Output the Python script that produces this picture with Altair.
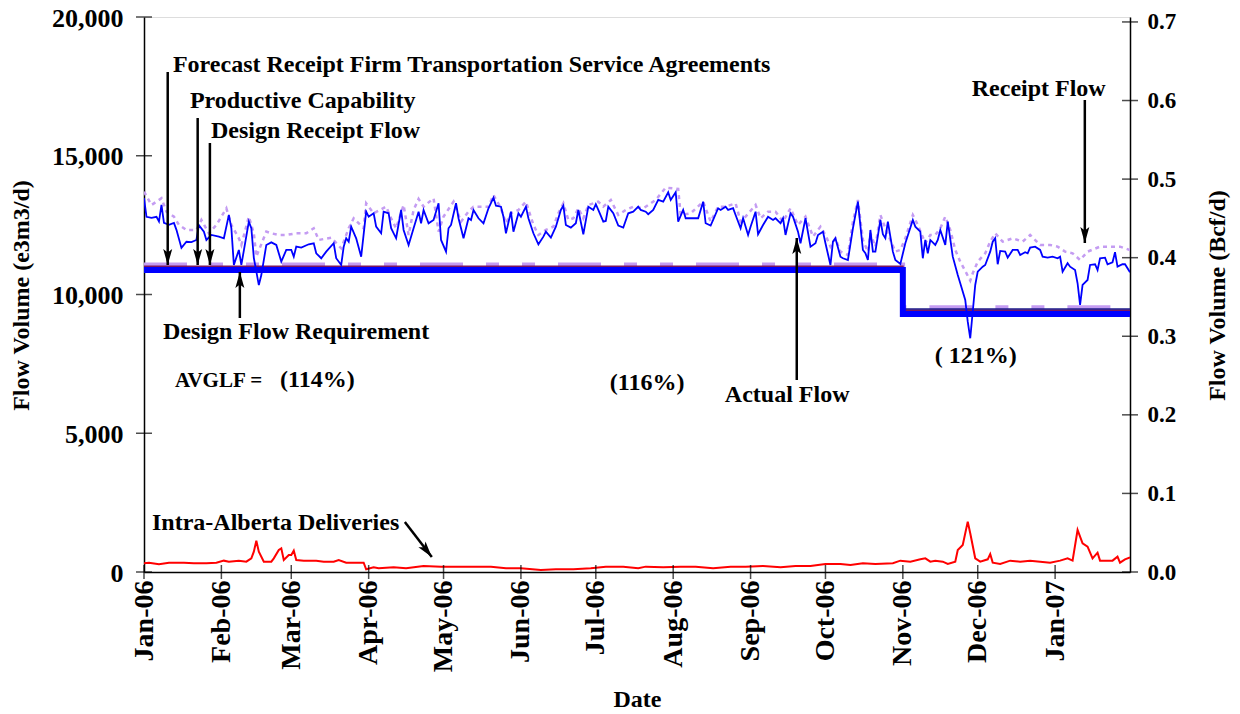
import altair as alt
import pandas as pd

START = pd.Timestamp("2006-01-01")
END = pd.Timestamp("2007-01-31")
CF = 35.3147e-6  # e3m3/d -> Bcf/d
FONT = "Liberation Serif"

# ---------------- data (day offset from 2006-01-01, value in e3m3/d) ----------------
actual_flow = [
    (0, 13470), (1, 12800), (3, 12760), (5, 12800), (6, 12630), (7, 13230), (8, 12580), (10, 12510),
    (12, 12580), (13, 12330), (15, 11680), (17, 11900), (19, 11890), (21, 11965), (22, 12500), (24, 12260),
    (25, 11965), (27, 12145), (30, 12085), (32, 12025), (34, 12870), (35, 12390), (36, 11065), (38, 11605),
    (39, 11065), (42, 12625), (43, 12390), (44, 11320), (46, 10340), (47, 10700), (49, 11785), (51, 11880),
    (53, 11785), (55, 11185), (57, 11605), (59, 11605), (60, 11365), (61, 11725), (63, 11690), (66, 11810),
    (68, 11846), (69, 11486), (71, 11306), (73, 11544), (76, 11846), (77, 11306), (79, 11064), (80, 11724),
    (81, 12026), (82, 11904), (83, 12445), (85, 12026), (87, 11363), (89, 12985), (90, 12805), (92, 12927),
    (93, 12445), (95, 12207), (96, 12985), (98, 12927), (99, 12387), (101, 12026), (103, 13046), (104, 12326),
    (106, 11785), (108, 12387), (110, 12985), (111, 12567), (112, 13046), (114, 12567), (116, 12686), (118, 13288),
    (119, 11965), (121, 11544), (122, 12387), (123, 12506), (125, 13288), (126, 12747), (128, 12026), (130, 12747),
    (131, 12686), (132, 13046), (134, 12747), (136, 12567), (138, 13108), (140, 13490), (141, 13202), (143, 13165),
    (144, 12805), (145, 12207), (147, 12985), (148, 12264), (150, 12927), (151, 12805), (153, 13165), (154, 12747),
    (156, 12207), (158, 11810), (160, 12084), (161, 12264), (163, 12048), (165, 12445), (167, 13046), (168, 13202),
    (169, 12506), (171, 12409), (173, 12567), (174, 13046), (176, 12171), (178, 13165), (180, 13046), (181, 13252),
    (182, 13046), (184, 12625), (185, 12650), (186, 13165), (188, 12927), (190, 12481), (192, 12409), (194, 12927),
    (196, 12985), (198, 13165), (199, 13046), (201, 12985), (202, 12892), (204, 13046), (206, 13407), (208, 13346),
    (210, 13684), (211, 13407), (213, 13684), (214, 12625), (216, 13046), (217, 12747), (220, 12747), (222, 12747),
    (224, 13346), (225, 12567), (227, 12481), (228, 12686), (230, 13108), (231, 13046), (233, 13165), (234, 13046),
    (236, 13108), (237, 12866), (239, 12387), (240, 12747), (242, 12145), (243, 12445), (245, 12985), (246, 12171),
    (248, 12506), (250, 12805), (252, 12686), (253, 12747), (255, 12567), (256, 12747), (257, 12145), (259, 12927),
    (260, 12805), (262, 12264), (263, 11846), (265, 12747), (267, 11724), (269, 11846), (270, 12145), (272, 12264),
    (273, 11846), (275, 11064), (276, 11904), (277, 12026), (279, 11363), (280, 11306), (282, 11244), (284, 12387),
    (286, 13346), (288, 11605), (289, 11486), (290, 11244), (291, 12326), (292, 11544), (293, 11544), (295, 12686),
    (296, 12171), (297, 12026), (298, 12625), (300, 11544), (301, 11244), (303, 11100), (305, 11846), (308, 12686),
    (309, 12445), (311, 12264), (312, 11306), (313, 11965), (314, 11486), (315, 11965), (317, 11785), (318, 11965),
    (319, 12326), (321, 11785), (322, 12625), (324, 11363), (326, 10704), (327, 10405), (329, 9803), (330, 9021),
    (331, 8422), (333, 10343), (334, 10823), (336, 11003), (337, 11064), (339, 11544), (340, 11904), (341, 12026),
    (342, 11090), (343, 11569), (345, 11544), (346, 11327), (348, 11605), (350, 11605), (351, 11425), (353, 11522),
    (354, 11486), (355, 11688), (357, 11724), (359, 11605), (360, 11363), (362, 11327), (364, 11363), (366, 11306),
    (367, 11363), (368, 10823), (370, 11126), (371, 11003), (373, 10884), (374, 10405), (375, 9623), (376, 10343),
    (378, 10524), (379, 11064), (381, 11090), (382, 10884), (383, 11306), (385, 11327), (386, 11090), (388, 11162),
    (389, 11522), (390, 11003), (392, 11090), (393, 11090), (395, 10801),
]

receipt_flow = [
    (0, 13707), (3, 13226), (7, 13467), (9, 12986), (12, 12806), (14, 12506), (17, 12326), (21, 12326),
    (23, 12686), (26, 12206), (29, 12506), (33, 13106), (35, 12506), (38, 12025), (39, 11785), (42, 12806),
    (44, 12206), (45, 11365), (49, 12266), (51, 12206), (54, 12146), (57, 12146), (61, 12206), (65, 12206),
    (68, 12386), (70, 11965), (75, 12049), (79, 11665), (82, 12386), (84, 12746), (88, 12386), (89, 13286),
    (92, 12926), (97, 13166), (99, 12746), (101, 12386), (104, 13226), (106, 12146), (108, 13046), (110, 13443),
    (112, 13166), (116, 13467), (118, 12266), (120, 12806), (124, 13346), (127, 12626), (130, 12986), (132, 13166),
    (138, 13166), (140, 13587), (143, 13106), (145, 12566), (147, 12926), (150, 13046), (153, 13346), (156, 12506),
    (158, 12146), (161, 12326), (164, 12446), (166, 12926), (168, 13286), (170, 12686), (172, 12746), (174, 13106),
    (176, 12746), (178, 13226), (182, 13346), (184, 13166), (187, 13406), (190, 12866), (193, 13046), (196, 13166),
    (200, 13106), (205, 13406), (209, 13851), (214, 13803), (215, 12866), (219, 12926), (224, 13346), (227, 12626),
    (230, 13166), (233, 13166), (237, 13286), (239, 12626), (241, 12806), (245, 13226), (247, 12746), (250, 12986),
    (253, 12986), (256, 12626), (259, 13106), (262, 12506), (265, 12806), (268, 12085), (271, 12446), (273, 12146),
    (275, 11725), (277, 12025), (279, 11545), (282, 11425), (284, 12626), (286, 13406), (288, 11965), (290, 11545),
    (291, 12206), (293, 11725), (295, 12866), (297, 12386), (299, 11965), (301, 11545), (303, 11605), (305, 12025),
    (308, 12866), (310, 12506), (313, 11845), (315, 12146), (317, 12146), (319, 12386), (321, 12806), (323, 12326),
    (325, 11605), (327, 11184), (329, 10850), (331, 10500), (332, 10764), (334, 11184), (337, 11485), (339, 11905),
    (341, 12206), (344, 11905), (348, 12025), (352, 11905), (355, 12146), (359, 11785), (363, 11785), (366, 11725),
    (369, 11545), (372, 11485), (375, 11245), (378, 11545), (383, 11725), (387, 11725), (391, 11725), (395, 11605),
]

intra_alberta = [
    (0, 313), (2, 337), (6, 277), (10, 337), (16, 337), (20, 313), (25, 313), (29, 337), (32, 409), (34, 373),
    (38, 409), (41, 373), (43, 493), (44, 733), (45, 1129), (46, 733), (48, 373), (51, 373), (52, 493), (54, 793),
    (55, 853), (56, 433), (58, 613), (59, 613), (60, 769), (61, 433), (64, 409), (69, 409), (72, 373), (76, 373),
    (78, 433), (81, 337), (85, 337), (88, 337), (89, 97), (92, 169), (94, 133), (100, 169), (105, 133), (112, 217),
    (119, 193), (125, 193), (132, 193), (139, 193), (145, 133), (151, 133), (159, 73), (165, 97), (172, 97),
    (179, 133), (185, 193), (192, 193), (198, 133), (201, 193), (208, 169), (215, 193), (221, 193), (228, 133),
    (235, 193), (241, 193), (248, 217), (255, 169), (261, 217), (267, 217), (273, 289), (279, 289), (283, 253),
    (288, 313), (293, 289), (300, 313), (303, 409), (307, 373), (311, 457), (313, 493), (315, 373), (317, 409),
    (320, 373), (322, 289), (325, 373), (326, 793), (328, 973), (330, 1814), (331, 1394), (333, 493), (335, 373),
    (338, 457), (339, 649), (340, 337), (343, 289), (347, 409), (351, 373), (355, 409), (359, 373), (363, 337),
    (367, 409), (370, 493), (372, 409), (374, 1514), (376, 1033), (378, 913), (380, 493), (382, 697), (383, 409),
    (388, 409), (390, 553), (391, 337), (393, 457), (395, 529),
]

# step series: value before / after 2006-11-01
step_dates = ["2006-01-01", "2006-11-01", "2007-01-31"]
design_flow_requirement = [10884, 9300, 9300]
forecast_ftsa = [10950, 9480, 9480]
design_receipt_flow = [11010, 9440, 9440]
productive_capability = [11070, 9535, 9535]

left_ticks = [0, 5000, 10000, 15000, 20000]
right_ticks = [0.0, 0.1, 0.2, 0.3, 0.4, 0.5, 0.6, 0.7]
month_ticks = [(2006, m) for m in range(1, 13)] + [(2007, 1)]

ann_text = ["Forecast Receipt Firm Transportation Service Agreements", "Productive Capability",
            "Design Receipt Flow", "Design Flow Requirement", "AVGLF =", "(114%)", "(116%)",
            "Actual  Flow", "Receipt Flow", "( 121%)", "Intra-Alberta Deliveries"]
ann_day = [11.6, 18.4, 26.8, 7.6, 12.4, 54.5, 186.6, 232.7, 331.6, 316.8, 3.2]
ann_val = [18270, 16973, 15892, 8649, 6883, 6919, 6811, 6378, 17405, 7784, 1766]
ann_size = [24, 24, 24, 24, 21, 24, 24, 24, 24, 24, 24]

arrow_from_day = [9.5, 21.5, 26.4, 38.4, 261.5, 376.9, 104.5]
arrow_from_val = [18018, 16360, 15459, 9153, 6919, 17009, 1802]
arrow_to_day = [9.5, 21.5, 26.4, 38.4, 261.5, 376.9, 115.3]
arrow_to_val = [11063, 11063, 11063, 10811, 12036, 11856, 541]
arrow_angle = [0, 0, 0, 180, 180, 0, 322]

# ---------------- build tables ----------------
def to_date(d):
    return START + pd.Timedelta(days=d)

def pairs_df(pairs):
    return pd.DataFrame({"date": [to_date(d) for d, _ in pairs], "v": [v for _, v in pairs]})

def step_df(vals):
    return pd.DataFrame({"date": pd.to_datetime(step_dates), "v": vals})

ann_df = pd.DataFrame({"date": [to_date(d) for d in ann_day], "v": ann_val, "txt": ann_text, "fs": ann_size})
arrow_df = pd.DataFrame({
    "date": [to_date(d) for d in arrow_from_day], "v": arrow_from_val,
    "date2": [to_date(d) for d in arrow_to_day], "v2": arrow_to_val,
})
head_df = pd.DataFrame({"date": [to_date(d) for d in arrow_to_day], "v": arrow_to_val, "ang": arrow_angle})
month_dates = [pd.Timestamp(year=y, month=m, day=1) for y, m in month_ticks]
bottom_tick_df = pd.DataFrame({"date": month_dates, "v": [0] * len(month_dates)})
left_tick_df = pd.DataFrame({"date": [START] * len(left_ticks), "v": left_ticks})
right_tick_df = pd.DataFrame({"date": [END] * len(right_ticks), "bcf": right_ticks})

# ---------------- encodings ----------------
x_enc = alt.X(
    "date:T",
    scale=alt.Scale(domain=[alt.DateTime(year=2006, month=1, date=1), alt.DateTime(year=2007, month=1, date=31)]),
    axis=alt.Axis(
        values=[alt.DateTime(year=y, month=m, date=1) for y, m in month_ticks],
        format="%b-%y", labelAngle=270, labelFont=FONT, labelFontSize=28, labelFontWeight="bold",
        labelColor="black", labelPadding=8, labelFlush=False, labelOverlap=False, ticks=False,
        domainColor="black", domainWidth=1.5, grid=False,
        title="Date", titleFont=FONT, titleFontSize=24, titleFontWeight="bold", titleColor="black",
        titleY=134, titleBaseline="alphabetic",
    ),
)

y_enc = alt.Y(
    "v:Q",
    scale=alt.Scale(domain=[0, 20000], nice=False),
    axis=alt.Axis(
        values=left_ticks, format=",d", labelFont=FONT, labelFontSize=26, labelFontWeight="bold",
        labelColor="black", labelPadding=21, labelOffset=1, ticks=False, domainColor="black",
        domainWidth=1.5, grid=False,
        title="Flow Volume (e3m3/d)", titleFont=FONT, titleFontSize=24, titleFontWeight="bold",
        titleColor="black", titleAngle=270, titleX=-116, titleY=278, titleBaseline="alphabetic",
        titleAlign="center",
    ),
)

def line(df, color, width, dash=None, interp="linear"):
    kw = dict(color=color, strokeWidth=width, interpolate=interp, clip=True)
    if dash:
        kw["strokeDash"] = dash
    return alt.Chart(df).mark_line(**kw).encode(x=x_enc, y=y_enc)

receipt_layer = line(pairs_df(receipt_flow), "#c49cf2", 2.5, [4, 4])
actual_layer = line(pairs_df(actual_flow), "#0000ff", 1.8)
prod_layer = line(step_df(productive_capability), "#c49cf2", 4.5, [43, 23, 13, 23, 13, 23], "step-after")
maroon_layer = line(step_df(design_receipt_flow), "#7b1560", 1.8, None, "step-after")
navy_layer = line(step_df(forecast_ftsa), "#1c1c8c", 1.5, None, "step-after")
req_layer = line(step_df(design_flow_requirement), "#0000ff", 6, None, "step-after")
intra_layer = line(pairs_df(intra_alberta), "#ff0000", 2)

arrow_lines = alt.Chart(arrow_df).mark_rule(color="black", strokeWidth=2.5).encode(
    x=x_enc, y=y_enc, x2="date2:T", y2="v2:Q")
arrow_heads = alt.Chart(head_df).mark_point(
    shape="M0,0 L-0.45,-1.6 L0,-1.25 L0.45,-1.6 Z", filled=True, color="black", opacity=1, size=400,
    strokeWidth=0).encode(x=x_enc, y=y_enc, angle=alt.Angle("ang:Q", scale=None))

texts = alt.Chart(ann_df).mark_text(
    align="left", baseline="middle", font=FONT, fontWeight="bold", color="black").encode(
    x=x_enc, y=y_enc, text="txt:N", size=alt.Size("fs:Q", scale=None))

left_cross = alt.Chart(left_tick_df).mark_tick(orient="horizontal", size=16, thickness=1.5, color="black").encode(
    x=x_enc, y=y_enc)
bottom_cross = alt.Chart(bottom_tick_df).mark_tick(orient="vertical", size=14, thickness=1.5, color="black").encode(
    x=x_enc, y=y_enc)

main = alt.layer(
    receipt_layer, prod_layer, maroon_layer, navy_layer, req_layer, actual_layer, intra_layer,
    arrow_lines, arrow_heads, texts, left_cross, bottom_cross,
)

right = alt.Chart(right_tick_df).mark_tick(orient="horizontal", size=16, thickness=1.5, color="black").encode(
    x=x_enc,
    y=alt.Y(
        "bcf:Q",
        scale=alt.Scale(domain=[0, 20000 * CF], nice=False),
        axis=alt.Axis(
            orient="right", values=right_ticks, format=".1f", labelFont=FONT, labelFontSize=23,
            labelFontWeight="bold", labelColor="black", labelPadding=17, ticks=False,
            domainColor="black", domainWidth=1.5, grid=False,
            title="Flow Volume  (Bcf/d)", titleFont=FONT, titleFontSize=24, titleFontWeight="bold",
            titleColor="black", titleAngle=270, titleX=94, titleY=278, titleBaseline="alphabetic",
            titleAlign="center",
        ),
    ),
)

chart = alt.layer(main, right).resolve_scale(y="independent").properties(
    width=986, height=555,
    autosize=alt.AutoSizeParams(type="none"),
    padding={"left": 136, "top": 9, "right": 102, "bottom": 138},
).configure_view(stroke="black", strokeWidth=1.5).configure(background="white")

chart.save("out.html", embed_options={"renderer": "svg", "actions": False})
